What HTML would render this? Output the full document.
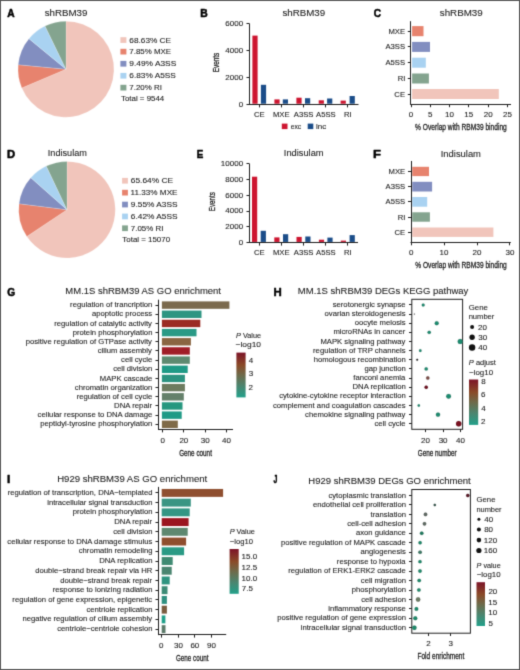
<!DOCTYPE html>
<html><head><meta charset="utf-8"><style>
html,body{margin:0;padding:0;background:#fff;width:520px;height:670px;overflow:hidden;}
svg{display:block;}
text{font-family:"Liberation Sans",sans-serif;fill:#1e1e1e;stroke:#1e1e1e;stroke-width:0.1px;}
</style></head><body>
<svg width="520" height="670" viewBox="0 0 520 670">
<rect x="0" y="0" width="520" height="670" fill="#fff"/>
<defs><filter id="bl" x="0" y="0" width="520" height="670" filterUnits="userSpaceOnUse" primitiveUnits="userSpaceOnUse" color-interpolation-filters="sRGB"><feConvolveMatrix order="3" kernelMatrix="0.01917 0.10012 0.01917 0.10012 0.52283 0.10012 0.01917 0.10012 0.01917" edgeMode="duplicate"/></filter><linearGradient id="gG" x1="0" y1="1" x2="0" y2="0"><stop offset="0" stop-color="#22a08a"/><stop offset="0.25" stop-color="#4a8670"/><stop offset="0.5" stop-color="#6e6a4a"/><stop offset="0.72" stop-color="#8a4a28"/><stop offset="1" stop-color="#7d1428"/></linearGradient><linearGradient id="gI" x1="0" y1="1" x2="0" y2="0"><stop offset="0" stop-color="#22a08a"/><stop offset="0.25" stop-color="#4a8670"/><stop offset="0.5" stop-color="#6e6a4a"/><stop offset="0.72" stop-color="#8a4a28"/><stop offset="1" stop-color="#7d1428"/></linearGradient><linearGradient id="gH" x1="0" y1="1" x2="0" y2="0"><stop offset="0" stop-color="#22a08a"/><stop offset="0.25" stop-color="#4a8670"/><stop offset="0.5" stop-color="#6e6a4a"/><stop offset="0.72" stop-color="#8a4a28"/><stop offset="1" stop-color="#7d1428"/></linearGradient><linearGradient id="gJ" x1="0" y1="1" x2="0" y2="0"><stop offset="0" stop-color="#22a08a"/><stop offset="0.25" stop-color="#4a8670"/><stop offset="0.5" stop-color="#6e6a4a"/><stop offset="0.72" stop-color="#8a4a28"/><stop offset="1" stop-color="#7d1428"/></linearGradient></defs>
<g filter="url(#bl)">
<rect x="0" y="0" width="520" height="670" fill="#fff"/>
<text x="7.19" y="16.80" font-size="10.12" font-weight="bold" style="fill:#000;stroke:#000;stroke-width:0.5px;stroke-linejoin:round" textLength="7.38" lengthAdjust="spacingAndGlyphs">A</text>
<text x="44.68" y="15.80" font-size="9.0" textLength="42.73" lengthAdjust="spacingAndGlyphs">shRBM39</text>
<path d="M66.00,69.20 L66.00,21.20 A48.0,48.0 0 1 1 21.79,87.90 Z" fill="#f1c5bb" stroke="#fff" stroke-width="0.35" stroke-opacity="0.5"/>
<path d="M66.00,69.20 L21.79,87.90 A48.0,48.0 0 0 1 18.21,64.74 Z" fill="#e7836e" stroke="#fff" stroke-width="0.35" stroke-opacity="0.5"/>
<path d="M66.00,69.20 L18.21,64.74 A48.0,48.0 0 0 1 28.96,38.67 Z" fill="#828ec0" stroke="#fff" stroke-width="0.35" stroke-opacity="0.5"/>
<path d="M66.00,69.20 L28.96,38.67 A48.0,48.0 0 0 1 45.02,26.03 Z" fill="#a9d2f1" stroke="#fff" stroke-width="0.35" stroke-opacity="0.5"/>
<path d="M66.00,69.20 L45.02,26.03 A48.0,48.0 0 0 1 66.00,21.20 Z" fill="#84a48f" stroke="#fff" stroke-width="0.35" stroke-opacity="0.5"/>
<rect x="120.40" y="37.20" width="6.00" height="5.70" fill="#f1c5bb"/>
<text x="129.33" y="42.50" font-size="7.4" textLength="41.77" lengthAdjust="spacingAndGlyphs">68.63% CE</text>
<rect x="120.40" y="48.80" width="6.00" height="5.70" fill="#e7836e"/>
<text x="129.34" y="54.10" font-size="7.4" textLength="41.75" lengthAdjust="spacingAndGlyphs">7.85% MXE</text>
<rect x="120.40" y="60.90" width="6.00" height="5.70" fill="#828ec0"/>
<text x="129.36" y="66.20" font-size="7.4" textLength="46.87" lengthAdjust="spacingAndGlyphs">9.49% A3SS</text>
<rect x="120.40" y="72.90" width="6.00" height="5.70" fill="#a9d2f1"/>
<text x="129.33" y="78.20" font-size="7.4" textLength="46.49" lengthAdjust="spacingAndGlyphs">6.83% A5SS</text>
<rect x="120.40" y="84.80" width="6.00" height="5.70" fill="#84a48f"/>
<text x="129.34" y="90.10" font-size="7.4" textLength="32.64" lengthAdjust="spacingAndGlyphs">7.20% RI</text>
<text x="120.98" y="100.90" font-size="7.4" textLength="43.30" lengthAdjust="spacingAndGlyphs">Total = 9544</text>
<text x="7.05" y="157.60" font-size="11.05" font-weight="bold" style="fill:#000;stroke:#000;stroke-width:0.5px;stroke-linejoin:round" textLength="8.13" lengthAdjust="spacingAndGlyphs">D</text>
<text x="47.81" y="156.20" font-size="9.0" textLength="39.15" lengthAdjust="spacingAndGlyphs">Indisulam</text>
<path d="M67.00,209.70 L67.00,161.40 A48.3,48.3 0 1 1 26.81,236.50 Z" fill="#f1c5bb" stroke="#fff" stroke-width="0.35" stroke-opacity="0.5"/>
<path d="M67.00,209.70 L26.81,236.50 A48.3,48.3 0 0 1 19.07,203.74 Z" fill="#e7836e" stroke="#fff" stroke-width="0.35" stroke-opacity="0.5"/>
<path d="M67.00,209.70 L19.07,203.74 A48.3,48.3 0 0 1 30.81,177.71 Z" fill="#828ec0" stroke="#fff" stroke-width="0.35" stroke-opacity="0.5"/>
<path d="M67.00,209.70 L30.81,177.71 A48.3,48.3 0 0 1 46.27,166.07 Z" fill="#a9d2f1" stroke="#fff" stroke-width="0.35" stroke-opacity="0.5"/>
<path d="M67.00,209.70 L46.27,166.07 A48.3,48.3 0 0 1 66.97,161.40 Z" fill="#84a48f" stroke="#fff" stroke-width="0.35" stroke-opacity="0.5"/>
<rect x="122.10" y="177.90" width="5.80" height="5.70" fill="#f1c5bb"/>
<text x="130.83" y="183.30" font-size="7.4" textLength="42.28" lengthAdjust="spacingAndGlyphs">65.64% CE</text>
<rect x="122.10" y="189.80" width="5.80" height="5.70" fill="#e7836e"/>
<text x="130.64" y="195.20" font-size="7.4" textLength="46.86" lengthAdjust="spacingAndGlyphs">11.33% MXE</text>
<rect x="122.10" y="201.70" width="5.80" height="5.70" fill="#828ec0"/>
<text x="130.86" y="207.10" font-size="7.4" textLength="46.66" lengthAdjust="spacingAndGlyphs">9.55% A3SS</text>
<rect x="122.10" y="213.60" width="5.80" height="5.70" fill="#a9d2f1"/>
<text x="130.83" y="219.00" font-size="7.4" textLength="46.70" lengthAdjust="spacingAndGlyphs">6.42% A5SS</text>
<rect x="122.10" y="225.40" width="5.80" height="5.70" fill="#84a48f"/>
<text x="130.84" y="230.80" font-size="7.4" textLength="32.54" lengthAdjust="spacingAndGlyphs">7.05% RI</text>
<text x="122.38" y="242.00" font-size="7.4" textLength="47.68" lengthAdjust="spacingAndGlyphs">Total = 15070</text>
<text x="200.31" y="16.80" font-size="10.39" font-weight="bold" style="fill:#000;stroke:#000;stroke-width:0.5px;stroke-linejoin:round" textLength="7.46" lengthAdjust="spacingAndGlyphs">B</text>
<text x="282.48" y="15.80" font-size="9.0" textLength="42.73" lengthAdjust="spacingAndGlyphs">shRBM39</text>
<line x1="249.50" y1="23.70" x2="249.50" y2="104.70" stroke="#1e1e1e" stroke-width="1.0"/>
<line x1="249.00" y1="104.50" x2="358.50" y2="104.50" stroke="#1e1e1e" stroke-width="1.0"/>
<line x1="246.50" y1="104.50" x2="249.50" y2="104.50" stroke="#1e1e1e" stroke-width="1.0"/>
<text x="238.66" y="106.65" font-size="7.3" textLength="4.45" lengthAdjust="spacingAndGlyphs">0</text>
<line x1="246.50" y1="77.50" x2="249.50" y2="77.50" stroke="#1e1e1e" stroke-width="1.0"/>
<text x="225.32" y="79.82" font-size="7.3" textLength="17.80" lengthAdjust="spacingAndGlyphs">2000</text>
<line x1="246.50" y1="50.50" x2="249.50" y2="50.50" stroke="#1e1e1e" stroke-width="1.0"/>
<text x="225.32" y="52.98" font-size="7.3" textLength="17.80" lengthAdjust="spacingAndGlyphs">4000</text>
<line x1="246.50" y1="23.50" x2="249.50" y2="23.50" stroke="#1e1e1e" stroke-width="1.0"/>
<text x="225.32" y="26.15" font-size="7.3" textLength="17.80" lengthAdjust="spacingAndGlyphs">6000</text>
<line x1="259.50" y1="104.20" x2="259.50" y2="107.40" stroke="#1e1e1e" stroke-width="1.0"/>
<rect x="252.40" y="35.60" width="5.20" height="68.10" fill="#cd1530"/>
<rect x="260.90" y="84.80" width="5.20" height="18.90" fill="#1b4d89"/>
<text x="253.94" y="117.00" font-size="7.3" textLength="10.65" lengthAdjust="spacingAndGlyphs">CE</text>
<line x1="281.50" y1="104.20" x2="281.50" y2="107.40" stroke="#1e1e1e" stroke-width="1.0"/>
<rect x="274.40" y="99.40" width="5.20" height="4.30" fill="#cd1530"/>
<rect x="282.80" y="99.40" width="5.20" height="4.30" fill="#1b4d89"/>
<text x="272.94" y="117.00" font-size="7.3" textLength="16.62" lengthAdjust="spacingAndGlyphs">MXE</text>
<line x1="303.50" y1="104.20" x2="303.50" y2="107.40" stroke="#1e1e1e" stroke-width="1.0"/>
<rect x="296.40" y="97.70" width="5.20" height="6.00" fill="#cd1530"/>
<rect x="305.00" y="98.20" width="5.20" height="5.50" fill="#1b4d89"/>
<text x="293.86" y="117.00" font-size="7.3" textLength="19.61" lengthAdjust="spacingAndGlyphs">A3SS</text>
<line x1="325.50" y1="104.20" x2="325.50" y2="107.40" stroke="#1e1e1e" stroke-width="1.0"/>
<rect x="318.70" y="100.30" width="5.20" height="3.40" fill="#cd1530"/>
<rect x="327.10" y="98.50" width="5.20" height="5.20" fill="#1b4d89"/>
<text x="316.06" y="117.00" font-size="7.3" textLength="19.61" lengthAdjust="spacingAndGlyphs">A5SS</text>
<line x1="347.50" y1="104.20" x2="347.50" y2="107.40" stroke="#1e1e1e" stroke-width="1.0"/>
<rect x="340.60" y="100.60" width="5.20" height="3.10" fill="#cd1530"/>
<rect x="349.60" y="96.00" width="5.20" height="7.70" fill="#1b4d89"/>
<text x="344.10" y="117.00" font-size="7.3" textLength="7.67" lengthAdjust="spacingAndGlyphs">RI</text>
<text transform="translate(219.00,72.27) rotate(-90)" x="0" y="0" font-size="9.2" style="stroke-width:0.3px" textLength="19.56" lengthAdjust="spacingAndGlyphs">Events</text>
<rect x="281.80" y="123.60" width="5.70" height="5.50" fill="#cd1530"/>
<text x="290.66" y="129.30" font-size="7.3" textLength="10.46" lengthAdjust="spacingAndGlyphs">exc</text>
<rect x="307.70" y="123.60" width="5.60" height="5.50" fill="#1b4d89"/>
<text x="316.01" y="129.30" font-size="7.3" textLength="10.25" lengthAdjust="spacingAndGlyphs">inc</text>
<text x="196.64" y="157.80" font-size="10.76" font-weight="bold" style="fill:#000;stroke:#000;stroke-width:0.5px;stroke-linejoin:round" textLength="6.54" lengthAdjust="spacingAndGlyphs">E</text>
<text x="283.89" y="156.20" font-size="9.0" textLength="39.67" lengthAdjust="spacingAndGlyphs">Indisulam</text>
<line x1="249.50" y1="163.90" x2="249.50" y2="242.90" stroke="#1e1e1e" stroke-width="1.0"/>
<line x1="249.00" y1="242.50" x2="358.00" y2="242.50" stroke="#1e1e1e" stroke-width="1.0"/>
<line x1="246.50" y1="242.50" x2="249.50" y2="242.50" stroke="#1e1e1e" stroke-width="1.0"/>
<text x="238.66" y="244.85" font-size="7.3" textLength="4.45" lengthAdjust="spacingAndGlyphs">0</text>
<line x1="246.50" y1="226.50" x2="249.50" y2="226.50" stroke="#1e1e1e" stroke-width="1.0"/>
<text x="225.32" y="229.15" font-size="7.3" textLength="17.80" lengthAdjust="spacingAndGlyphs">2000</text>
<line x1="246.50" y1="211.50" x2="249.50" y2="211.50" stroke="#1e1e1e" stroke-width="1.0"/>
<text x="225.32" y="213.45" font-size="7.3" textLength="17.80" lengthAdjust="spacingAndGlyphs">4000</text>
<line x1="246.50" y1="195.50" x2="249.50" y2="195.50" stroke="#1e1e1e" stroke-width="1.0"/>
<text x="225.32" y="197.75" font-size="7.3" textLength="17.80" lengthAdjust="spacingAndGlyphs">6000</text>
<line x1="246.50" y1="179.50" x2="249.50" y2="179.50" stroke="#1e1e1e" stroke-width="1.0"/>
<text x="225.32" y="182.05" font-size="7.3" textLength="17.80" lengthAdjust="spacingAndGlyphs">8000</text>
<line x1="246.50" y1="163.50" x2="249.50" y2="163.50" stroke="#1e1e1e" stroke-width="1.0"/>
<text x="220.87" y="166.35" font-size="7.3" textLength="22.25" lengthAdjust="spacingAndGlyphs">10000</text>
<line x1="259.50" y1="242.40" x2="259.50" y2="245.60" stroke="#1e1e1e" stroke-width="1.0"/>
<rect x="252.00" y="176.70" width="5.20" height="65.20" fill="#cd1530"/>
<rect x="260.70" y="230.80" width="5.20" height="11.10" fill="#1b4d89"/>
<text x="253.94" y="255.40" font-size="7.3" textLength="10.65" lengthAdjust="spacingAndGlyphs">CE</text>
<line x1="281.50" y1="242.40" x2="281.50" y2="245.60" stroke="#1e1e1e" stroke-width="1.0"/>
<rect x="274.30" y="237.40" width="5.20" height="4.50" fill="#cd1530"/>
<rect x="283.00" y="234.20" width="5.20" height="7.70" fill="#1b4d89"/>
<text x="272.94" y="255.40" font-size="7.3" textLength="16.62" lengthAdjust="spacingAndGlyphs">MXE</text>
<line x1="303.50" y1="242.40" x2="303.50" y2="245.60" stroke="#1e1e1e" stroke-width="1.0"/>
<rect x="296.50" y="236.90" width="5.20" height="5.00" fill="#cd1530"/>
<rect x="305.30" y="236.50" width="5.20" height="5.40" fill="#1b4d89"/>
<text x="293.86" y="255.40" font-size="7.3" textLength="19.61" lengthAdjust="spacingAndGlyphs">A3SS</text>
<line x1="325.50" y1="242.40" x2="325.50" y2="245.60" stroke="#1e1e1e" stroke-width="1.0"/>
<rect x="318.90" y="239.70" width="5.20" height="2.20" fill="#cd1530"/>
<rect x="327.40" y="237.60" width="5.20" height="4.30" fill="#1b4d89"/>
<text x="316.06" y="255.40" font-size="7.3" textLength="19.61" lengthAdjust="spacingAndGlyphs">A5SS</text>
<line x1="347.50" y1="242.40" x2="347.50" y2="245.60" stroke="#1e1e1e" stroke-width="1.0"/>
<rect x="340.80" y="240.60" width="5.20" height="1.30" fill="#cd1530"/>
<rect x="349.60" y="235.10" width="5.20" height="6.80" fill="#1b4d89"/>
<text x="344.10" y="255.40" font-size="7.3" textLength="7.67" lengthAdjust="spacingAndGlyphs">RI</text>
<text transform="translate(215.00,211.16) rotate(-90)" x="0" y="0" font-size="9.2" style="stroke-width:0.3px" textLength="18.93" lengthAdjust="spacingAndGlyphs">Events</text>
<text x="373.79" y="16.60" font-size="10.61" font-weight="bold" style="fill:#000;stroke:#000;stroke-width:0.5px;stroke-linejoin:round" textLength="7.29" lengthAdjust="spacingAndGlyphs">C</text>
<text x="439.78" y="16.10" font-size="9.0" textLength="42.94" lengthAdjust="spacingAndGlyphs">shRBM39</text>
<line x1="410.50" y1="21.20" x2="410.50" y2="104.70" stroke="#1e1e1e" stroke-width="1.0"/>
<line x1="410.30" y1="104.50" x2="511.00" y2="104.50" stroke="#1e1e1e" stroke-width="1.0"/>
<line x1="411.50" y1="104.20" x2="411.50" y2="107.20" stroke="#1e1e1e" stroke-width="1.0"/>
<text x="408.78" y="116.80" font-size="7.3" textLength="4.45" lengthAdjust="spacingAndGlyphs">0</text>
<line x1="430.50" y1="104.20" x2="430.50" y2="107.20" stroke="#1e1e1e" stroke-width="1.0"/>
<text x="428.08" y="116.80" font-size="7.3" textLength="4.45" lengthAdjust="spacingAndGlyphs">5</text>
<line x1="449.50" y1="104.20" x2="449.50" y2="107.20" stroke="#1e1e1e" stroke-width="1.0"/>
<text x="445.00" y="116.80" font-size="7.3" textLength="8.90" lengthAdjust="spacingAndGlyphs">10</text>
<line x1="468.50" y1="104.20" x2="468.50" y2="107.20" stroke="#1e1e1e" stroke-width="1.0"/>
<text x="464.31" y="116.80" font-size="7.3" textLength="8.90" lengthAdjust="spacingAndGlyphs">15</text>
<line x1="488.50" y1="104.20" x2="488.50" y2="107.20" stroke="#1e1e1e" stroke-width="1.0"/>
<text x="483.71" y="116.80" font-size="7.3" textLength="8.90" lengthAdjust="spacingAndGlyphs">20</text>
<line x1="507.50" y1="104.20" x2="507.50" y2="107.20" stroke="#1e1e1e" stroke-width="1.0"/>
<text x="503.02" y="116.80" font-size="7.3" textLength="8.90" lengthAdjust="spacingAndGlyphs">25</text>
<rect x="412.10" y="26.10" width="11.40" height="10.10" fill="#e7836e"/>
<line x1="407.80" y1="31.50" x2="410.80" y2="31.50" stroke="#1e1e1e" stroke-width="1.0"/>
<text x="388.41" y="33.70" font-size="7.3" textLength="16.62" lengthAdjust="spacingAndGlyphs">MXE</text>
<rect x="412.10" y="41.90" width="17.90" height="10.00" fill="#828ec0"/>
<line x1="407.80" y1="46.50" x2="410.80" y2="46.50" stroke="#1e1e1e" stroke-width="1.0"/>
<text x="385.44" y="49.45" font-size="7.3" textLength="19.61" lengthAdjust="spacingAndGlyphs">A3SS</text>
<rect x="412.10" y="57.70" width="13.70" height="10.00" fill="#a9d2f1"/>
<line x1="407.80" y1="62.50" x2="410.80" y2="62.50" stroke="#1e1e1e" stroke-width="1.0"/>
<text x="385.44" y="65.25" font-size="7.3" textLength="19.61" lengthAdjust="spacingAndGlyphs">A5SS</text>
<rect x="412.10" y="73.50" width="16.80" height="10.00" fill="#84a48f"/>
<line x1="407.80" y1="78.50" x2="410.80" y2="78.50" stroke="#1e1e1e" stroke-width="1.0"/>
<text x="397.74" y="81.05" font-size="7.3" textLength="7.67" lengthAdjust="spacingAndGlyphs">RI</text>
<rect x="412.10" y="89.00" width="86.70" height="10.00" fill="#f1c5bb"/>
<line x1="407.80" y1="94.50" x2="410.80" y2="94.50" stroke="#1e1e1e" stroke-width="1.0"/>
<text x="394.37" y="96.55" font-size="7.3" textLength="10.65" lengthAdjust="spacingAndGlyphs">CE</text>
<text x="415.11" y="129.90" font-size="9.0" style="stroke-width:0.3px" textLength="91.66" lengthAdjust="spacingAndGlyphs">% Overlap with RBM39 binding</text>
<text x="373.13" y="157.80" font-size="10.76" font-weight="bold" style="fill:#000;stroke:#000;stroke-width:0.5px;stroke-linejoin:round" textLength="7.95" lengthAdjust="spacingAndGlyphs">F</text>
<text x="440.78" y="156.70" font-size="9.0" textLength="40.19" lengthAdjust="spacingAndGlyphs">Indisulam</text>
<line x1="411.50" y1="161.00" x2="411.50" y2="242.80" stroke="#1e1e1e" stroke-width="1.0"/>
<line x1="410.50" y1="242.50" x2="510.80" y2="242.50" stroke="#1e1e1e" stroke-width="1.0"/>
<line x1="411.50" y1="242.30" x2="411.50" y2="245.30" stroke="#1e1e1e" stroke-width="1.0"/>
<text x="408.98" y="254.50" font-size="7.3" textLength="4.45" lengthAdjust="spacingAndGlyphs">0</text>
<line x1="444.50" y1="242.30" x2="444.50" y2="245.30" stroke="#1e1e1e" stroke-width="1.0"/>
<text x="439.50" y="254.50" font-size="7.3" textLength="8.90" lengthAdjust="spacingAndGlyphs">10</text>
<line x1="477.50" y1="242.30" x2="477.50" y2="245.30" stroke="#1e1e1e" stroke-width="1.0"/>
<text x="472.51" y="254.50" font-size="7.3" textLength="8.90" lengthAdjust="spacingAndGlyphs">20</text>
<line x1="509.50" y1="242.30" x2="509.50" y2="245.30" stroke="#1e1e1e" stroke-width="1.0"/>
<text x="505.45" y="254.50" font-size="7.3" textLength="8.90" lengthAdjust="spacingAndGlyphs">30</text>
<rect x="412.30" y="166.80" width="16.70" height="9.30" fill="#e7836e"/>
<line x1="408.00" y1="171.50" x2="411.00" y2="171.50" stroke="#1e1e1e" stroke-width="1.0"/>
<text x="388.51" y="174.00" font-size="7.3" textLength="16.62" lengthAdjust="spacingAndGlyphs">MXE</text>
<rect x="412.30" y="181.80" width="19.80" height="9.70" fill="#828ec0"/>
<line x1="408.00" y1="186.50" x2="411.00" y2="186.50" stroke="#1e1e1e" stroke-width="1.0"/>
<text x="385.54" y="189.20" font-size="7.3" textLength="19.61" lengthAdjust="spacingAndGlyphs">A3SS</text>
<rect x="412.30" y="197.00" width="14.90" height="9.70" fill="#a9d2f1"/>
<line x1="408.00" y1="201.50" x2="411.00" y2="201.50" stroke="#1e1e1e" stroke-width="1.0"/>
<text x="385.54" y="204.40" font-size="7.3" textLength="19.61" lengthAdjust="spacingAndGlyphs">A5SS</text>
<rect x="412.30" y="212.30" width="17.60" height="9.40" fill="#84a48f"/>
<line x1="408.00" y1="217.50" x2="411.00" y2="217.50" stroke="#1e1e1e" stroke-width="1.0"/>
<text x="397.84" y="219.55" font-size="7.3" textLength="7.67" lengthAdjust="spacingAndGlyphs">RI</text>
<rect x="412.30" y="227.50" width="81.10" height="9.40" fill="#f1c5bb"/>
<line x1="408.00" y1="232.50" x2="411.00" y2="232.50" stroke="#1e1e1e" stroke-width="1.0"/>
<text x="394.47" y="234.75" font-size="7.3" textLength="10.65" lengthAdjust="spacingAndGlyphs">CE</text>
<text x="415.21" y="267.50" font-size="9.0" style="stroke-width:0.3px" textLength="91.56" lengthAdjust="spacingAndGlyphs">% Overlap with RBM39 binding</text>
<text x="7.18" y="295.80" font-size="11.05" font-weight="bold" style="fill:#000;stroke:#000;stroke-width:0.5px;stroke-linejoin:round" textLength="7.95" lengthAdjust="spacingAndGlyphs">G</text>
<text x="65.38" y="294.10" font-size="9.0" textLength="155.54" lengthAdjust="spacingAndGlyphs">MM.1S shRBM39 AS GO enrichment</text>
<line x1="158.50" y1="299.70" x2="158.50" y2="429.90" stroke="#1e1e1e" stroke-width="1.0"/>
<line x1="158.00" y1="429.50" x2="233.00" y2="429.50" stroke="#1e1e1e" stroke-width="1.0"/>
<rect x="161.90" y="301.40" width="67.50" height="7.40" fill="#7b6a4d"/>
<line x1="155.50" y1="305.50" x2="158.50" y2="305.50" stroke="#1e1e1e" stroke-width="1.0"/>
<text x="70.11" y="307.20" font-size="7.3" textLength="82.29" lengthAdjust="spacingAndGlyphs">regulation of trancription</text>
<rect x="161.90" y="310.57" width="39.60" height="7.40" fill="#2e9582"/>
<line x1="155.50" y1="314.50" x2="158.50" y2="314.50" stroke="#1e1e1e" stroke-width="1.0"/>
<text x="92.06" y="316.37" font-size="7.3" textLength="60.12" lengthAdjust="spacingAndGlyphs">apoptotic process</text>
<rect x="161.90" y="319.74" width="38.40" height="7.40" fill="#9b2b24"/>
<line x1="155.50" y1="323.50" x2="158.50" y2="323.50" stroke="#1e1e1e" stroke-width="1.0"/>
<text x="54.29" y="325.54" font-size="7.3" textLength="97.62" lengthAdjust="spacingAndGlyphs">regulation of catalytic activity</text>
<rect x="161.90" y="328.91" width="34.60" height="7.40" fill="#2a9a86"/>
<line x1="155.50" y1="332.50" x2="158.50" y2="332.50" stroke="#1e1e1e" stroke-width="1.0"/>
<text x="72.66" y="334.71" font-size="7.3" textLength="79.74" lengthAdjust="spacingAndGlyphs">protein phosphorylation</text>
<rect x="161.90" y="338.08" width="29.00" height="7.40" fill="#8a6542"/>
<line x1="155.50" y1="341.50" x2="158.50" y2="341.50" stroke="#1e1e1e" stroke-width="1.0"/>
<text x="25.73" y="343.88" font-size="7.3" textLength="126.19" lengthAdjust="spacingAndGlyphs">positive regulation of GTPase activity</text>
<rect x="161.90" y="347.25" width="27.90" height="7.40" fill="#a01d27"/>
<line x1="155.50" y1="350.50" x2="158.50" y2="350.50" stroke="#1e1e1e" stroke-width="1.0"/>
<text x="97.79" y="353.05" font-size="7.3" textLength="54.13" lengthAdjust="spacingAndGlyphs">cilium assembly</text>
<rect x="161.90" y="356.42" width="27.90" height="7.40" fill="#5d8a70"/>
<line x1="155.50" y1="360.50" x2="158.50" y2="360.50" stroke="#1e1e1e" stroke-width="1.0"/>
<text x="121.13" y="362.22" font-size="7.3" textLength="31.11" lengthAdjust="spacingAndGlyphs">cell cycle</text>
<rect x="161.90" y="365.59" width="25.80" height="7.40" fill="#1f9a86"/>
<line x1="155.50" y1="369.50" x2="158.50" y2="369.50" stroke="#1e1e1e" stroke-width="1.0"/>
<text x="113.18" y="371.39" font-size="7.3" textLength="39.22" lengthAdjust="spacingAndGlyphs">cell division</text>
<rect x="161.90" y="374.76" width="23.00" height="7.40" fill="#2c9380"/>
<line x1="155.50" y1="378.50" x2="158.50" y2="378.50" stroke="#1e1e1e" stroke-width="1.0"/>
<text x="99.81" y="380.56" font-size="7.3" textLength="52.44" lengthAdjust="spacingAndGlyphs">MAPK cascade</text>
<rect x="161.90" y="383.93" width="23.00" height="7.40" fill="#6d7b5f"/>
<line x1="155.50" y1="387.50" x2="158.50" y2="387.50" stroke="#1e1e1e" stroke-width="1.0"/>
<text x="74.80" y="389.73" font-size="7.3" textLength="77.60" lengthAdjust="spacingAndGlyphs">chromatin organization</text>
<rect x="161.90" y="393.10" width="21.90" height="7.40" fill="#64806a"/>
<line x1="155.50" y1="396.50" x2="158.50" y2="396.50" stroke="#1e1e1e" stroke-width="1.0"/>
<text x="76.78" y="398.90" font-size="7.3" textLength="75.46" lengthAdjust="spacingAndGlyphs">regulation of cell cycle</text>
<rect x="161.90" y="402.27" width="20.60" height="7.40" fill="#26977f"/>
<line x1="155.50" y1="405.50" x2="158.50" y2="405.50" stroke="#1e1e1e" stroke-width="1.0"/>
<text x="114.09" y="408.07" font-size="7.3" textLength="37.93" lengthAdjust="spacingAndGlyphs">DNA repair</text>
<rect x="161.90" y="411.44" width="19.80" height="7.40" fill="#1f9a86"/>
<line x1="155.50" y1="415.50" x2="158.50" y2="415.50" stroke="#1e1e1e" stroke-width="1.0"/>
<text x="37.56" y="417.24" font-size="7.3" textLength="114.68" lengthAdjust="spacingAndGlyphs">cellular response to DNA damage</text>
<rect x="161.90" y="420.61" width="15.90" height="7.40" fill="#7f6a48"/>
<line x1="155.50" y1="424.50" x2="158.50" y2="424.50" stroke="#1e1e1e" stroke-width="1.0"/>
<text x="40.27" y="426.41" font-size="7.3" textLength="112.13" lengthAdjust="spacingAndGlyphs">peptidyl-tyrosine phosphorylation</text>
<line x1="162.50" y1="429.40" x2="162.50" y2="432.40" stroke="#1e1e1e" stroke-width="1.0"/>
<text x="160.48" y="442.60" font-size="7.3" textLength="4.45" lengthAdjust="spacingAndGlyphs">0</text>
<line x1="183.50" y1="429.40" x2="183.50" y2="432.40" stroke="#1e1e1e" stroke-width="1.0"/>
<text x="179.41" y="442.60" font-size="7.3" textLength="8.90" lengthAdjust="spacingAndGlyphs">20</text>
<line x1="205.50" y1="429.40" x2="205.50" y2="432.40" stroke="#1e1e1e" stroke-width="1.0"/>
<text x="200.75" y="442.60" font-size="7.3" textLength="8.90" lengthAdjust="spacingAndGlyphs">30</text>
<line x1="226.50" y1="429.40" x2="226.50" y2="432.40" stroke="#1e1e1e" stroke-width="1.0"/>
<text x="222.02" y="442.60" font-size="7.3" textLength="8.90" lengthAdjust="spacingAndGlyphs">40</text>
<text x="179.13" y="455.50" font-size="9.0" style="stroke-width:0.3px" textLength="32.77" lengthAdjust="spacingAndGlyphs">Gene count</text>
<rect x="236.40" y="352.60" width="9.20" height="44.80" fill="url(#gG)"/>
<text x="248.82" y="362.85" font-size="7.3" textLength="4.45" lengthAdjust="spacingAndGlyphs">4</text>
<text x="248.70" y="376.45" font-size="7.3" textLength="4.45" lengthAdjust="spacingAndGlyphs">3</text>
<text x="248.60" y="389.55" font-size="7.3" textLength="4.45" lengthAdjust="spacingAndGlyphs">2</text>
<text x="236.07" y="337.60" font-size="7.1" textLength="24.90" lengthAdjust="spacingAndGlyphs"><tspan font-style="italic">P</tspan> Value</text>
<text x="235.54" y="347.30" font-size="7.3" textLength="25.44" lengthAdjust="spacingAndGlyphs">−log10</text>
<text x="7.01" y="483.00" font-size="10.47" font-weight="bold" style="fill:#000;stroke:#000;stroke-width:0.5px;stroke-linejoin:round" textLength="3.28" lengthAdjust="spacingAndGlyphs">I</text>
<text x="57.17" y="481.50" font-size="9.0" textLength="150.05" lengthAdjust="spacingAndGlyphs">H929 shRBM39 AS GO enrichment</text>
<line x1="158.50" y1="486.90" x2="158.50" y2="635.10" stroke="#1e1e1e" stroke-width="1.0"/>
<line x1="158.00" y1="634.50" x2="226.20" y2="634.50" stroke="#1e1e1e" stroke-width="1.0"/>
<rect x="161.70" y="488.95" width="61.40" height="7.90" fill="#8f4f30"/>
<line x1="155.50" y1="492.50" x2="158.50" y2="492.50" stroke="#1e1e1e" stroke-width="1.0"/>
<text x="7.75" y="495.00" font-size="7.3" textLength="144.74" lengthAdjust="spacingAndGlyphs">regulation of transcription, DNA−templated</text>
<rect x="161.70" y="498.68" width="29.10" height="7.90" fill="#3a9583"/>
<line x1="155.50" y1="502.50" x2="158.50" y2="502.50" stroke="#1e1e1e" stroke-width="1.0"/>
<text x="47.19" y="504.73" font-size="7.3" textLength="105.31" lengthAdjust="spacingAndGlyphs">intracellular signal transduction</text>
<rect x="161.70" y="508.41" width="28.00" height="7.90" fill="#349684"/>
<line x1="155.50" y1="512.50" x2="158.50" y2="512.50" stroke="#1e1e1e" stroke-width="1.0"/>
<text x="72.76" y="514.46" font-size="7.3" textLength="79.74" lengthAdjust="spacingAndGlyphs">protein phosphorylation</text>
<rect x="161.70" y="518.14" width="26.90" height="7.90" fill="#9b1520"/>
<line x1="155.50" y1="522.50" x2="158.50" y2="522.50" stroke="#1e1e1e" stroke-width="1.0"/>
<text x="114.19" y="524.19" font-size="7.3" textLength="37.93" lengthAdjust="spacingAndGlyphs">DNA repair</text>
<rect x="161.70" y="527.87" width="26.00" height="7.90" fill="#5e8870"/>
<line x1="155.50" y1="531.50" x2="158.50" y2="531.50" stroke="#1e1e1e" stroke-width="1.0"/>
<text x="113.28" y="533.92" font-size="7.3" textLength="39.22" lengthAdjust="spacingAndGlyphs">cell division</text>
<rect x="161.70" y="537.60" width="24.40" height="7.90" fill="#8f4e2e"/>
<line x1="155.50" y1="541.50" x2="158.50" y2="541.50" stroke="#1e1e1e" stroke-width="1.0"/>
<text x="7.33" y="543.65" font-size="7.3" textLength="144.94" lengthAdjust="spacingAndGlyphs">cellular response to DNA damage stimulus</text>
<rect x="161.70" y="547.33" width="22.40" height="7.90" fill="#2a9a85"/>
<line x1="155.50" y1="551.50" x2="158.50" y2="551.50" stroke="#1e1e1e" stroke-width="1.0"/>
<text x="78.74" y="553.38" font-size="7.3" textLength="73.75" lengthAdjust="spacingAndGlyphs">chromatin remodeling</text>
<rect x="161.70" y="557.06" width="11.00" height="7.90" fill="#3f8a72"/>
<line x1="155.50" y1="561.50" x2="158.50" y2="561.50" stroke="#1e1e1e" stroke-width="1.0"/>
<text x="99.21" y="563.11" font-size="7.3" textLength="53.29" lengthAdjust="spacingAndGlyphs">DNA replication</text>
<rect x="161.70" y="566.79" width="10.00" height="7.90" fill="#4a8570"/>
<line x1="155.50" y1="570.50" x2="158.50" y2="570.50" stroke="#1e1e1e" stroke-width="1.0"/>
<text x="35.32" y="572.84" font-size="7.3" textLength="117.03" lengthAdjust="spacingAndGlyphs">double−strand break repair via HR</text>
<rect x="161.70" y="576.52" width="8.00" height="7.90" fill="#2f9480"/>
<line x1="155.50" y1="580.50" x2="158.50" y2="580.50" stroke="#1e1e1e" stroke-width="1.0"/>
<text x="60.24" y="582.57" font-size="7.3" textLength="91.89" lengthAdjust="spacingAndGlyphs">double−strand break repair</text>
<rect x="161.70" y="586.25" width="5.80" height="7.90" fill="#3c8b76"/>
<line x1="155.50" y1="590.50" x2="158.50" y2="590.50" stroke="#1e1e1e" stroke-width="1.0"/>
<text x="52.72" y="592.30" font-size="7.3" textLength="99.77" lengthAdjust="spacingAndGlyphs">response to ionizing radiation</text>
<rect x="161.70" y="595.98" width="5.20" height="7.90" fill="#2f9080"/>
<line x1="155.50" y1="599.50" x2="158.50" y2="599.50" stroke="#1e1e1e" stroke-width="1.0"/>
<text x="12.34" y="602.03" font-size="7.3" textLength="139.86" lengthAdjust="spacingAndGlyphs">regulation of gene expression, epigenetic</text>
<rect x="161.70" y="605.71" width="5.20" height="7.90" fill="#7a5c40"/>
<line x1="155.50" y1="609.50" x2="158.50" y2="609.50" stroke="#1e1e1e" stroke-width="1.0"/>
<text x="86.42" y="611.76" font-size="7.3" textLength="66.08" lengthAdjust="spacingAndGlyphs">centriole replication</text>
<rect x="161.70" y="615.44" width="3.70" height="7.90" fill="#21a08a"/>
<line x1="155.50" y1="619.50" x2="158.50" y2="619.50" stroke="#1e1e1e" stroke-width="1.0"/>
<text x="22.41" y="621.49" font-size="7.3" textLength="129.60" lengthAdjust="spacingAndGlyphs">negative regulation of cilium assembly</text>
<rect x="161.70" y="625.17" width="3.80" height="7.90" fill="#5c7a6a"/>
<line x1="155.50" y1="629.50" x2="158.50" y2="629.50" stroke="#1e1e1e" stroke-width="1.0"/>
<text x="57.20" y="631.22" font-size="7.3" textLength="95.29" lengthAdjust="spacingAndGlyphs">centriole−centriole cohesion</text>
<line x1="161.50" y1="634.60" x2="161.50" y2="637.60" stroke="#1e1e1e" stroke-width="1.0"/>
<text x="158.98" y="647.70" font-size="7.3" textLength="4.45" lengthAdjust="spacingAndGlyphs">0</text>
<line x1="178.50" y1="634.60" x2="178.50" y2="637.60" stroke="#1e1e1e" stroke-width="1.0"/>
<text x="174.05" y="647.70" font-size="7.3" textLength="8.90" lengthAdjust="spacingAndGlyphs">30</text>
<line x1="194.50" y1="634.60" x2="194.50" y2="637.60" stroke="#1e1e1e" stroke-width="1.0"/>
<text x="190.40" y="647.70" font-size="7.3" textLength="8.90" lengthAdjust="spacingAndGlyphs">60</text>
<line x1="211.50" y1="634.60" x2="211.50" y2="637.60" stroke="#1e1e1e" stroke-width="1.0"/>
<text x="207.02" y="647.70" font-size="7.3" textLength="8.90" lengthAdjust="spacingAndGlyphs">90</text>
<text x="175.93" y="660.50" font-size="9.0" style="stroke-width:0.3px" textLength="32.46" lengthAdjust="spacingAndGlyphs">Gene count</text>
<rect x="229.60" y="549.00" width="9.10" height="44.80" fill="url(#gI)"/>
<text x="241.59" y="559.05" font-size="7.3" textLength="15.57" lengthAdjust="spacingAndGlyphs">15.0</text>
<text x="241.59" y="569.75" font-size="7.3" textLength="15.57" lengthAdjust="spacingAndGlyphs">12.5</text>
<text x="241.59" y="580.55" font-size="7.3" textLength="15.57" lengthAdjust="spacingAndGlyphs">10.0</text>
<text x="241.79" y="591.25" font-size="7.3" textLength="11.12" lengthAdjust="spacingAndGlyphs">7.5</text>
<text x="229.66" y="534.10" font-size="7.1" textLength="25.21" lengthAdjust="spacingAndGlyphs"><tspan font-style="italic">P</tspan> Value</text>
<text x="229.87" y="544.20" font-size="7.3" textLength="23.18" lengthAdjust="spacingAndGlyphs">−log10</text>
<text x="273.44" y="295.80" font-size="11.63" font-weight="bold" style="fill:#000;stroke:#000;stroke-width:0.5px;stroke-linejoin:round" textLength="8.23" lengthAdjust="spacingAndGlyphs">H</text>
<text x="297.87" y="293.60" font-size="9.0" textLength="170.50" lengthAdjust="spacingAndGlyphs">MM.1S shRBM39 DEGs KEGG pathway</text>
<rect x="411.80" y="299.30" width="50.80" height="130.00" fill="none" stroke="#1e1e1e" stroke-width="1"/>
<line x1="409.00" y1="304.50" x2="411.80" y2="304.50" stroke="#1e1e1e" stroke-width="1.0"/>
<text x="332.73" y="307.00" font-size="7.3" textLength="72.91" lengthAdjust="spacingAndGlyphs">serotonergic synapse</text>
<line x1="409.00" y1="314.50" x2="411.80" y2="314.50" stroke="#1e1e1e" stroke-width="1.0"/>
<text x="324.57" y="316.15" font-size="7.3" textLength="81.01" lengthAdjust="spacingAndGlyphs">ovarian steroidogenesis</text>
<line x1="409.00" y1="323.50" x2="411.80" y2="323.50" stroke="#1e1e1e" stroke-width="1.0"/>
<text x="354.85" y="325.29" font-size="7.3" textLength="50.73" lengthAdjust="spacingAndGlyphs">oocyte meiosis</text>
<line x1="409.00" y1="332.50" x2="411.80" y2="332.50" stroke="#1e1e1e" stroke-width="1.0"/>
<text x="333.40" y="334.44" font-size="7.3" textLength="72.03" lengthAdjust="spacingAndGlyphs">microRNAs in cancer</text>
<line x1="409.00" y1="341.50" x2="411.80" y2="341.50" stroke="#1e1e1e" stroke-width="1.0"/>
<text x="320.47" y="343.58" font-size="7.3" textLength="84.84" lengthAdjust="spacingAndGlyphs">MAPK signaling pathway</text>
<line x1="409.00" y1="350.50" x2="411.80" y2="350.50" stroke="#1e1e1e" stroke-width="1.0"/>
<text x="313.06" y="352.73" font-size="7.3" textLength="92.52" lengthAdjust="spacingAndGlyphs">regulation of TRP channels</text>
<line x1="409.00" y1="359.50" x2="411.80" y2="359.50" stroke="#1e1e1e" stroke-width="1.0"/>
<text x="313.70" y="361.88" font-size="7.3" textLength="92.10" lengthAdjust="spacingAndGlyphs">homologous recombination</text>
<line x1="409.00" y1="368.50" x2="411.80" y2="368.50" stroke="#1e1e1e" stroke-width="1.0"/>
<text x="364.43" y="371.02" font-size="7.3" textLength="41.36" lengthAdjust="spacingAndGlyphs">gap junction</text>
<line x1="409.00" y1="378.50" x2="411.80" y2="378.50" stroke="#1e1e1e" stroke-width="1.0"/>
<text x="353.28" y="380.17" font-size="7.3" textLength="52.02" lengthAdjust="spacingAndGlyphs">fanconi anemia</text>
<line x1="409.00" y1="387.50" x2="411.80" y2="387.50" stroke="#1e1e1e" stroke-width="1.0"/>
<text x="352.51" y="389.31" font-size="7.3" textLength="53.29" lengthAdjust="spacingAndGlyphs">DNA replication</text>
<line x1="409.00" y1="396.50" x2="411.80" y2="396.50" stroke="#1e1e1e" stroke-width="1.0"/>
<text x="279.18" y="398.46" font-size="7.3" textLength="126.61" lengthAdjust="spacingAndGlyphs">cytokine-cytokine receptor interaction</text>
<line x1="409.00" y1="405.50" x2="411.80" y2="405.50" stroke="#1e1e1e" stroke-width="1.0"/>
<text x="272.97" y="407.61" font-size="7.3" textLength="132.60" lengthAdjust="spacingAndGlyphs">complement and coagulation cascades</text>
<line x1="409.00" y1="414.50" x2="411.80" y2="414.50" stroke="#1e1e1e" stroke-width="1.0"/>
<text x="305.12" y="416.75" font-size="7.3" textLength="100.20" lengthAdjust="spacingAndGlyphs">chemokine signaling pathway</text>
<line x1="409.00" y1="423.50" x2="411.80" y2="423.50" stroke="#1e1e1e" stroke-width="1.0"/>
<text x="374.53" y="425.90" font-size="7.3" textLength="31.11" lengthAdjust="spacingAndGlyphs">cell cycle</text>
<circle cx="423.20" cy="304.90" r="1.50" fill="#1d8c70" stroke="rgba(0,0,0,0.3)" stroke-width="0.4"/>
<circle cx="414.40" cy="314.05" r="0.60" fill="#777" stroke="rgba(0,0,0,0.3)" stroke-width="0.4"/>
<circle cx="436.70" cy="323.19" r="2.00" fill="#1d8c70" stroke="rgba(0,0,0,0.3)" stroke-width="0.4"/>
<circle cx="429.20" cy="332.34" r="1.70" fill="#1d8c70" stroke="rgba(0,0,0,0.3)" stroke-width="0.4"/>
<circle cx="460.20" cy="341.48" r="2.50" fill="#1d8c70" stroke="rgba(0,0,0,0.3)" stroke-width="0.4"/>
<circle cx="420.30" cy="350.63" r="1.30" fill="#1d8c70" stroke="rgba(0,0,0,0.3)" stroke-width="0.4"/>
<circle cx="417.20" cy="359.78" r="1.00" fill="#333" stroke="rgba(0,0,0,0.3)" stroke-width="0.4"/>
<circle cx="426.20" cy="368.92" r="1.70" fill="#1d8c70" stroke="rgba(0,0,0,0.3)" stroke-width="0.4"/>
<circle cx="427.80" cy="378.07" r="1.70" fill="#7a4a45" stroke="rgba(0,0,0,0.3)" stroke-width="0.4"/>
<circle cx="426.20" cy="387.21" r="1.70" fill="#6e1020" stroke="rgba(0,0,0,0.3)" stroke-width="0.4"/>
<circle cx="448.60" cy="396.36" r="2.40" fill="#1d8c70" stroke="rgba(0,0,0,0.3)" stroke-width="0.4"/>
<circle cx="418.80" cy="405.51" r="1.20" fill="#1d8c70" stroke="rgba(0,0,0,0.3)" stroke-width="0.4"/>
<circle cx="438.00" cy="414.65" r="2.10" fill="#1d8c70" stroke="rgba(0,0,0,0.3)" stroke-width="0.4"/>
<circle cx="458.70" cy="423.80" r="2.70" fill="#7a1020" stroke="rgba(0,0,0,0.3)" stroke-width="0.4"/>
<line x1="425.50" y1="429.30" x2="425.50" y2="432.10" stroke="#1e1e1e" stroke-width="1.0"/>
<text x="421.11" y="442.50" font-size="7.3" textLength="8.90" lengthAdjust="spacingAndGlyphs">20</text>
<line x1="443.50" y1="429.30" x2="443.50" y2="432.10" stroke="#1e1e1e" stroke-width="1.0"/>
<text x="438.65" y="442.50" font-size="7.3" textLength="8.90" lengthAdjust="spacingAndGlyphs">30</text>
<line x1="460.50" y1="429.30" x2="460.50" y2="432.10" stroke="#1e1e1e" stroke-width="1.0"/>
<text x="456.02" y="442.50" font-size="7.3" textLength="8.90" lengthAdjust="spacingAndGlyphs">40</text>
<text x="417.73" y="455.50" font-size="9.0" style="stroke-width:0.3px" textLength="38.93" lengthAdjust="spacingAndGlyphs">Gene number</text>
<text x="468.76" y="309.80" font-size="7.3" textLength="19.14" lengthAdjust="spacingAndGlyphs">Gene</text>
<text x="468.65" y="319.20" font-size="7.3" textLength="25.73" lengthAdjust="spacingAndGlyphs">number</text>
<circle cx="472.10" cy="327.10" r="2.00" fill="#111"/>
<text x="478.10" y="329.55" font-size="7.3" textLength="8.90" lengthAdjust="spacingAndGlyphs">20</text>
<circle cx="472.10" cy="337.30" r="2.70" fill="#111"/>
<text x="478.20" y="339.75" font-size="7.3" textLength="8.90" lengthAdjust="spacingAndGlyphs">30</text>
<circle cx="472.10" cy="347.50" r="3.20" fill="#111"/>
<text x="478.32" y="349.95" font-size="7.3" textLength="8.90" lengthAdjust="spacingAndGlyphs">40</text>
<rect x="469.00" y="379.50" width="9.20" height="45.40" fill="url(#gH)"/>
<text x="481.15" y="383.75" font-size="7.3" textLength="4.45" lengthAdjust="spacingAndGlyphs">8</text>
<text x="481.09" y="396.85" font-size="7.3" textLength="4.45" lengthAdjust="spacingAndGlyphs">6</text>
<text x="481.32" y="410.65" font-size="7.3" textLength="4.45" lengthAdjust="spacingAndGlyphs">4</text>
<text x="481.10" y="423.75" font-size="7.3" textLength="4.45" lengthAdjust="spacingAndGlyphs">2</text>
<text x="468.84" y="365.20" font-size="7.1" textLength="26.97" lengthAdjust="spacingAndGlyphs"><tspan font-style="italic">P</tspan> adjust</text>
<text x="469.06" y="374.70" font-size="7.3" textLength="24.00" lengthAdjust="spacingAndGlyphs">−log10</text>
<text x="273.39" y="483.00" font-size="10.76" font-weight="bold" style="fill:#000;stroke:#000;stroke-width:0.5px;stroke-linejoin:round" textLength="3.88" lengthAdjust="spacingAndGlyphs">J</text>
<text x="308.37" y="483.50" font-size="9.0" textLength="162.35" lengthAdjust="spacingAndGlyphs">H929 shRBM39 DEGs GO enrichment</text>
<rect x="411.80" y="489.50" width="58.60" height="143.70" fill="none" stroke="#1e1e1e" stroke-width="1"/>
<line x1="409.00" y1="495.50" x2="411.80" y2="495.50" stroke="#1e1e1e" stroke-width="1.0"/>
<text x="328.41" y="497.60" font-size="7.3" textLength="77.58" lengthAdjust="spacingAndGlyphs">cytoplasmic translation</text>
<line x1="409.00" y1="504.50" x2="411.80" y2="504.50" stroke="#1e1e1e" stroke-width="1.0"/>
<text x="313.05" y="507.05" font-size="7.3" textLength="92.95" lengthAdjust="spacingAndGlyphs">endothelial cell proliferation</text>
<line x1="409.00" y1="514.50" x2="411.80" y2="514.50" stroke="#1e1e1e" stroke-width="1.0"/>
<text x="370.61" y="516.50" font-size="7.3" textLength="35.39" lengthAdjust="spacingAndGlyphs">translation</text>
<line x1="409.00" y1="523.50" x2="411.80" y2="523.50" stroke="#1e1e1e" stroke-width="1.0"/>
<text x="347.16" y="525.95" font-size="7.3" textLength="58.84" lengthAdjust="spacingAndGlyphs">cell-cell adhesion</text>
<line x1="409.00" y1="533.50" x2="411.80" y2="533.50" stroke="#1e1e1e" stroke-width="1.0"/>
<text x="355.94" y="535.40" font-size="7.3" textLength="49.90" lengthAdjust="spacingAndGlyphs">axon guidance</text>
<line x1="409.00" y1="542.50" x2="411.80" y2="542.50" stroke="#1e1e1e" stroke-width="1.0"/>
<text x="280.92" y="544.85" font-size="7.3" textLength="124.92" lengthAdjust="spacingAndGlyphs">positive regulation of MAPK cascade</text>
<line x1="409.00" y1="552.50" x2="411.80" y2="552.50" stroke="#1e1e1e" stroke-width="1.0"/>
<text x="360.57" y="554.30" font-size="7.3" textLength="45.20" lengthAdjust="spacingAndGlyphs">angiogenesis</text>
<line x1="409.00" y1="561.50" x2="411.80" y2="561.50" stroke="#1e1e1e" stroke-width="1.0"/>
<text x="336.85" y="563.75" font-size="7.3" textLength="68.65" lengthAdjust="spacingAndGlyphs">response to hypoxia</text>
<line x1="409.00" y1="571.50" x2="411.80" y2="571.50" stroke="#1e1e1e" stroke-width="1.0"/>
<text x="288.17" y="573.20" font-size="7.3" textLength="117.67" lengthAdjust="spacingAndGlyphs">regulation of ERK1-ERK2 cascade</text>
<line x1="409.00" y1="580.50" x2="411.80" y2="580.50" stroke="#1e1e1e" stroke-width="1.0"/>
<text x="360.81" y="582.65" font-size="7.3" textLength="45.18" lengthAdjust="spacingAndGlyphs">cell migration</text>
<line x1="409.00" y1="590.50" x2="411.80" y2="590.50" stroke="#1e1e1e" stroke-width="1.0"/>
<text x="351.84" y="592.10" font-size="7.3" textLength="54.15" lengthAdjust="spacingAndGlyphs">phosphorylation</text>
<line x1="409.00" y1="599.50" x2="411.80" y2="599.50" stroke="#1e1e1e" stroke-width="1.0"/>
<text x="361.23" y="601.55" font-size="7.3" textLength="44.77" lengthAdjust="spacingAndGlyphs">cell adhesion</text>
<line x1="409.00" y1="608.50" x2="411.80" y2="608.50" stroke="#1e1e1e" stroke-width="1.0"/>
<text x="328.26" y="611.00" font-size="7.3" textLength="77.58" lengthAdjust="spacingAndGlyphs">inflammatory response</text>
<line x1="409.00" y1="618.50" x2="411.80" y2="618.50" stroke="#1e1e1e" stroke-width="1.0"/>
<text x="277.23" y="620.45" font-size="7.3" textLength="128.77" lengthAdjust="spacingAndGlyphs">positive regulation of gene expression</text>
<line x1="409.00" y1="627.50" x2="411.80" y2="627.50" stroke="#1e1e1e" stroke-width="1.0"/>
<text x="300.69" y="629.90" font-size="7.3" textLength="105.31" lengthAdjust="spacingAndGlyphs">intracellular signal transduction</text>
<circle cx="467.80" cy="495.50" r="1.70" fill="#5a1a28" stroke="rgba(0,0,0,0.3)" stroke-width="0.4"/>
<circle cx="434.80" cy="504.95" r="1.20" fill="#3a5a50" stroke="rgba(0,0,0,0.3)" stroke-width="0.4"/>
<circle cx="425.50" cy="514.40" r="1.80" fill="#606a64" stroke="rgba(0,0,0,0.3)" stroke-width="0.4"/>
<circle cx="424.50" cy="523.85" r="1.80" fill="#5e6a62" stroke="rgba(0,0,0,0.3)" stroke-width="0.4"/>
<circle cx="421.70" cy="533.30" r="1.80" fill="#1f7a5e" stroke="rgba(0,0,0,0.3)" stroke-width="0.4"/>
<circle cx="420.10" cy="542.75" r="1.70" fill="#1d8a6a" stroke="rgba(0,0,0,0.3)" stroke-width="0.4"/>
<circle cx="420.10" cy="552.20" r="1.80" fill="#3d7a66" stroke="rgba(0,0,0,0.3)" stroke-width="0.4"/>
<circle cx="420.00" cy="561.65" r="1.70" fill="#1d8a6a" stroke="rgba(0,0,0,0.3)" stroke-width="0.4"/>
<circle cx="420.00" cy="571.10" r="1.80" fill="#1d8a6a" stroke="rgba(0,0,0,0.3)" stroke-width="0.4"/>
<circle cx="419.20" cy="580.55" r="1.80" fill="#1d8a6a" stroke="rgba(0,0,0,0.3)" stroke-width="0.4"/>
<circle cx="418.90" cy="590.00" r="1.80" fill="#1d8a6a" stroke="rgba(0,0,0,0.3)" stroke-width="0.4"/>
<circle cx="418.10" cy="599.45" r="2.20" fill="#6a7a62" stroke="rgba(0,0,0,0.3)" stroke-width="0.4"/>
<circle cx="416.40" cy="608.90" r="1.90" fill="#1d8a6a" stroke="rgba(0,0,0,0.3)" stroke-width="0.4"/>
<circle cx="415.30" cy="618.35" r="2.00" fill="#1d8a6a" stroke="rgba(0,0,0,0.3)" stroke-width="0.4"/>
<circle cx="414.40" cy="627.80" r="2.20" fill="#1d8a6a" stroke="rgba(0,0,0,0.3)" stroke-width="0.4"/>
<line x1="428.50" y1="633.20" x2="428.50" y2="636.00" stroke="#1e1e1e" stroke-width="1.0"/>
<text x="426.18" y="646.20" font-size="7.3" textLength="4.45" lengthAdjust="spacingAndGlyphs">2</text>
<line x1="450.50" y1="633.20" x2="450.50" y2="636.00" stroke="#1e1e1e" stroke-width="1.0"/>
<text x="448.40" y="646.20" font-size="7.3" textLength="4.45" lengthAdjust="spacingAndGlyphs">3</text>
<text x="417.51" y="659.20" font-size="9.0" style="stroke-width:0.3px" textLength="46.78" lengthAdjust="spacingAndGlyphs">Fold enrichment</text>
<text x="476.56" y="502.20" font-size="7.3" textLength="18.93" lengthAdjust="spacingAndGlyphs">Gene</text>
<text x="476.46" y="511.60" font-size="7.3" textLength="25.11" lengthAdjust="spacingAndGlyphs">number</text>
<circle cx="478.90" cy="519.30" r="1.50" fill="#111"/>
<text x="484.32" y="521.75" font-size="7.3" textLength="8.90" lengthAdjust="spacingAndGlyphs">40</text>
<circle cx="478.90" cy="529.60" r="2.00" fill="#111"/>
<text x="484.15" y="532.05" font-size="7.3" textLength="8.90" lengthAdjust="spacingAndGlyphs">80</text>
<circle cx="478.90" cy="540.10" r="2.30" fill="#111"/>
<text x="483.89" y="542.55" font-size="7.3" textLength="13.35" lengthAdjust="spacingAndGlyphs">120</text>
<circle cx="478.90" cy="550.50" r="2.60" fill="#111"/>
<text x="483.89" y="552.95" font-size="7.3" textLength="13.35" lengthAdjust="spacingAndGlyphs">160</text>
<rect x="476.50" y="582.20" width="8.50" height="43.80" fill="url(#gJ)"/>
<text x="488.40" y="594.25" font-size="7.3" textLength="8.90" lengthAdjust="spacingAndGlyphs">20</text>
<text x="488.19" y="604.55" font-size="7.3" textLength="8.90" lengthAdjust="spacingAndGlyphs">15</text>
<text x="488.19" y="614.75" font-size="7.3" textLength="8.90" lengthAdjust="spacingAndGlyphs">10</text>
<text x="488.48" y="625.65" font-size="7.3" textLength="4.45" lengthAdjust="spacingAndGlyphs">5</text>
<text x="476.56" y="567.50" font-size="7.1" textLength="24.11" lengthAdjust="spacingAndGlyphs"><tspan font-style="italic">P</tspan> value</text>
<text x="476.76" y="577.20" font-size="7.3" textLength="23.90" lengthAdjust="spacingAndGlyphs">−log10</text>
<rect x="0.5" y="0.5" width="519" height="669" fill="none" stroke="#555" stroke-width="1"/>
</g>
</svg>
</body></html>
